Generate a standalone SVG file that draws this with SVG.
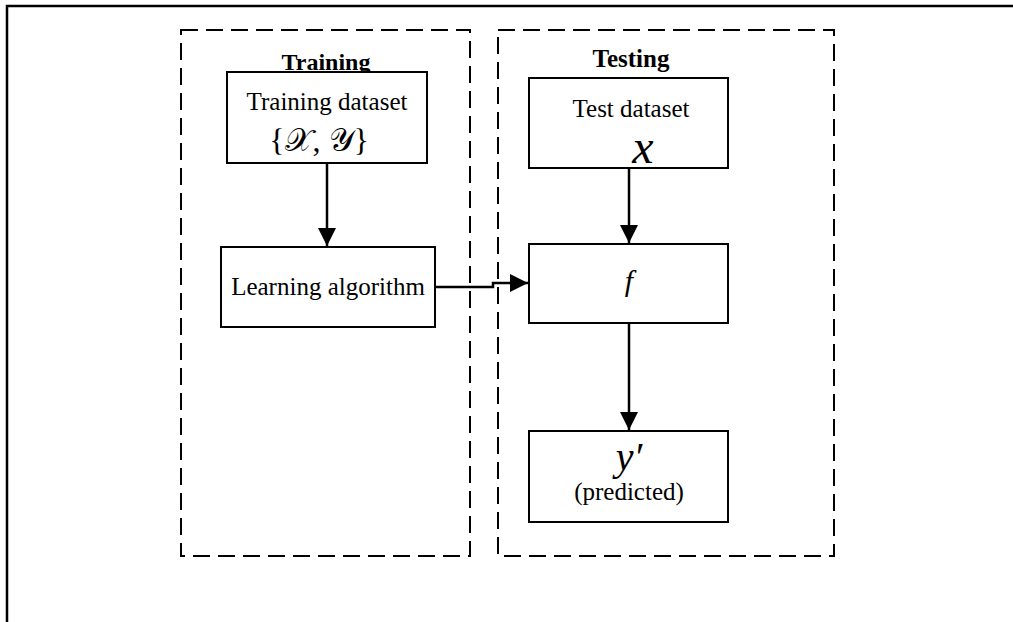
<svg xmlns="http://www.w3.org/2000/svg" width="1013" height="622" viewBox="0 0 1013 622">
<style>
.frame{fill:none;stroke:#000;stroke-width:2.5}
.phase{fill:none;stroke:#000;stroke-width:2;stroke-dasharray:17 8}
.box{fill:#fff;stroke:#000;stroke-width:2}
.t{font-family:"Liberation Serif","Times New Roman",serif;font-size:25px;fill:#000;text-anchor:middle}
.b{font-weight:bold}
.m{font-family:"Liberation Serif","DejaVu Serif",serif;font-style:italic;fill:#000;text-anchor:middle}
.c{fill:none;stroke:#000;stroke-width:2.5}
</style>
<defs>
<marker id="ah" markerUnits="userSpaceOnUse" viewBox="0 0 18 18" refX="18" refY="9" markerWidth="18" markerHeight="18" orient="auto">
<path d="M0,0 L18,9 L0,18 z" fill="#000"/>
</marker>
</defs>
<rect class="frame" x="7" y="6" width="1020" height="630"/>
<g id="training-phase">
<rect class="phase" x="181" y="30" width="289" height="526"/>
<text class="t b" x="326" y="70" style="font-size:24px">Training</text>
</g>
<g id="testing-phase">
<rect class="phase" x="498" y="30" width="336" height="526"/>
<text class="t b" x="631" y="67">Testing</text>
</g>
<g id="training-dataset">
<rect class="box" x="227" y="72" width="200" height="91"/>
<text class="t" x="327" y="110">Training dataset</text>
<text class="t" x="319" y="151" style="font-size:32px">{𝒳, 𝒴}</text>
</g>
<g id="learning-algorithm">
<rect class="box" x="221" y="247" width="214" height="80"/>
<text class="t" x="328" y="295">Learning algorithm</text>
</g>
<g id="test-dataset">
<rect class="box" x="529" y="78" width="199" height="90"/>
<text class="t" x="631" y="117">Test dataset</text>
<text class="m" x="643" y="163" style="font-size:48px">x</text>
</g>
<g id="model-f">
<rect class="box" x="529" y="244" width="199" height="79"/>
<text class="m" x="629" y="291" style="font-size:30px">f</text>
</g>
<g id="prediction">
<rect class="box" x="529" y="431" width="199" height="91"/>
<text class="m" x="629" y="470" style="font-size:40px">y′</text>
<text class="t" x="629" y="500">(predicted)</text>
</g>
<g id="connectors">
<path class="c" d="M327,163 V246" marker-end="url(#ah)"/>
<path class="c" d="M435,287 H493 V283 H528" marker-end="url(#ah)"/>
<path class="c" d="M629,168 V243" marker-end="url(#ah)"/>
<path class="c" d="M629,323 V430" marker-end="url(#ah)"/>
</g>
</svg>
